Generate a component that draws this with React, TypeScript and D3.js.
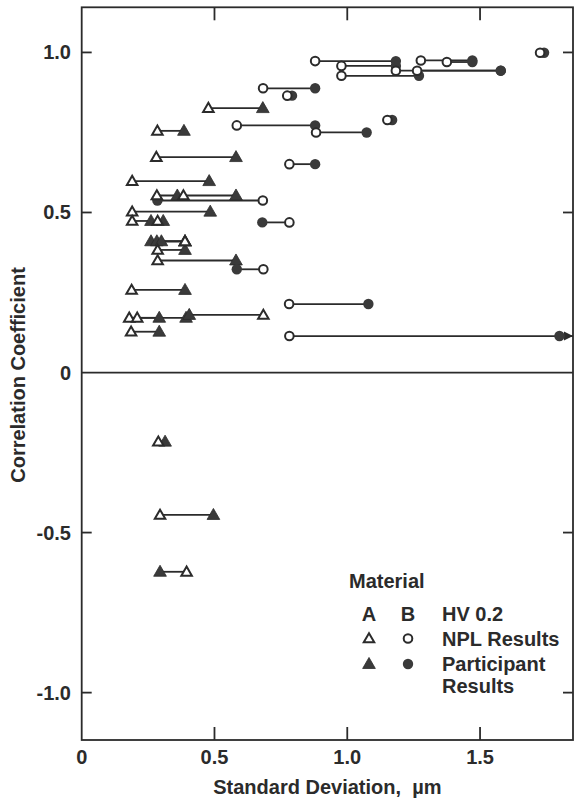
import * as d3 from "d3";

// Material A (triangles): correlation coefficient, NPL SD, participant SD
const aCoef = [0.826, 0.755, 0.673, 0.598, 0.553, 0.553, 0.5025, 0.4735, 0.4735, 0.41, 0.41, 0.41, 0.383, 0.35, 0.258, 0.171, 0.171, 0.18, 0.1275, -0.216, -0.445, -0.6225];
const aNpl = [0.477, 0.285, 0.281, 0.19, 0.283, 0.383, 0.19, 0.19, 0.286, 0.389, 0.389, 0.389, 0.286, 0.286, 0.188, 0.179, 0.209, 0.684, 0.186, 0.2885, 0.295, 0.395];
const aPart = [0.682, 0.385, 0.581, 0.48, 0.581, 0.36, 0.484, 0.261, 0.307, 0.261, 0.283, 0.3, 0.389, 0.581, 0.389, 0.292, 0.393, 0.405, 0.292, 0.314, 0.496, 0.295];

// Material B (circles)
const bCoef = [0.999, 0.975, 0.97, 0.973, 0.958, 0.943, 0.943, 0.927, 0.888, 0.865, 0.789, 0.772, 0.75, 0.651, 0.5375, 0.469, 0.3225, 0.214, 0.114];
const bNpl = [1.726, 1.277, 1.375, 0.879, 0.978, 1.183, 1.263, 0.978, 0.683, 0.774, 1.151, 0.584, 0.8825, 0.782, 0.682, 0.782, 0.684, 0.781, 0.782];
const bPart = [1.741, 1.471, 1.471, 1.183, 1.183, 1.578, 1.578, 1.27, 0.879, 0.792, 1.169, 0.879, 1.073, 0.879, 0.285, 0.68, 0.584, 1.0795, 1.799];

const xTicks = [0.5, 1.0, 1.5];
const xTickLabels = ["0", "0.5", "1.0", "1.5"];
const yTicks = [1.0, 0.5, -0.5, -1.0];
const yTickLabels = ["1.0", "0.5", "0", "-0.5", "-1.0"];

const W = 574;
const H = 804;
const left = 81.7;
const right = 573;
const top = 7.3;
const bottom = 740;
const ink = "#2b2b2b";
const font = "'Liberation Sans', Arial, Helvetica, sans-serif";

export default function App() {
  const x = d3.scaleLinear().domain([0, 1.85]).range([left, right]);
  const y = d3.scaleLinear().domain([-1.148, 1.141]).range([bottom, top]);

  const triOpen = d3.symbol(d3.symbolTriangle, 48)()!;
  const triFill = d3.symbol(d3.symbolTriangle, 70)()!;

  const rowsA = aCoef.map((c, i) => ({ c, npl: aNpl[i], part: aPart[i] }));
  const rowsB = bCoef.map((c, i) => ({ c, npl: bNpl[i], part: bPart[i] }));
  const xMax = x.domain()[1];

  const triangle = (cx: number, cy: number, open: boolean, key: string) => (
    <path
      key={key}
      d={open ? triOpen : triFill}
      transform={`translate(${cx},${cy + 0.8})`}
      fill={open ? "#fff" : "#3a3a3a"}
      stroke={ink}
      strokeWidth={open ? 2 : 0.8}
      strokeLinejoin="miter"
    />
  );
  const circle = (cx: number, cy: number, open: boolean, key: string) => (
    <circle
      key={key}
      cx={cx}
      cy={cy}
      r={open ? 4.3 : 5.2}
      fill={open ? "#fff" : "#3a3a3a"}
      stroke={open ? ink : "none"}
      strokeWidth={2}
    />
  );

  return (
    <svg
      width={W}
      height={H}
      style={{ position: "absolute", left: 0, top: 0, background: "#fff" }}
      fontFamily={font}
      fontWeight="bold"
    >
      {/* frame */}
      <rect x={left} y={top} width={right - left} height={bottom - top} fill="none" stroke={ink} strokeWidth={1.8} />
      <line x1={left} x2={right} y1={y(0)} y2={y(0)} stroke={ink} strokeWidth={1.8} />

      {/* ticks */}
      {xTicks.map((t) => (
        <g key={"xt" + t} stroke={ink} strokeWidth={1.8}>
          <line x1={x(t)} x2={x(t)} y1={bottom} y2={bottom - 13} />
          <line x1={x(t)} x2={x(t)} y1={top} y2={top + 13} />
        </g>
      ))}
      {yTicks.map((t) => (
        <g key={"yt" + t} stroke={ink} strokeWidth={1.8}>
          <line x1={left} x2={left + 10} y1={y(t)} y2={y(t)} />
          <line x1={right} x2={right - 10} y1={y(t)} y2={y(t)} />
        </g>
      ))}

      {/* tick labels */}
      {[0, ...xTicks].map((t, i) => (
        <text key={"xl" + t} x={x(t)} y={764} textAnchor="middle" fontSize={20} fill={ink}>
          {xTickLabels[i]}
        </text>
      ))}
      {[1.0, 0.5, 0, -0.5, -1.0].map((t, i) => (
        <text key={"yl" + t} x={71} y={y(t) + 7} textAnchor="end" fontSize={20} fill={ink}>
          {yTickLabels[i]}
        </text>
      ))}

      {/* axis titles */}
      <text x={(left + right) / 2} y={794} textAnchor="middle" fontSize={20} fill={ink}>
        Standard Deviation,{"\u00a0\u00a0"}µm
      </text>
      <text
        transform={`translate(25,${375}) rotate(-90)`}
        textAnchor="middle"
        fontSize={20}
        fill={ink}
      >
        Correlation Coefficient
      </text>

      {/* connecting lines */}
      {[...rowsA, ...rowsB].map((r, i) => (
        <line
          key={"ln" + i}
          x1={x(r.npl)}
          x2={x(Math.min(r.part > 1.78 ? xMax : r.part, xMax))}
          y1={y(r.c)}
          y2={y(r.c)}
          stroke={ink}
          strokeWidth={1.8}
        />
      ))}
      {/* off-scale arrow */}
      {rowsB
        .filter((r) => r.part > 1.78)
        .map((r, i) => (
          <path
            key={"ar" + i}
            d={`M${x(xMax)},${y(r.c)} l-9,-4.5 l0,9 z`}
            fill={ink}
          />
        ))}

      {/* participant (filled) */}
      {rowsA.map((r, i) => triangle(x(r.part), y(r.c), false, "af" + i))}
      {rowsB.map((r, i) => circle(x(r.part), y(r.c), false, "bf" + i))}
      {/* NPL (open) */}
      {rowsA.map((r, i) => triangle(x(r.npl), y(r.c), true, "ao" + i))}
      {rowsB.map((r, i) => circle(x(r.npl), y(r.c), true, "bo" + i))}

      {/* legend */}
      <g fill={ink} fontSize={20}>
        <text x={349} y={588}>Material</text>
        <text x={369} y={620.5} textAnchor="middle">A</text>
        <text x={408} y={620.5} textAnchor="middle">B</text>
        <text x={442} y={620.5}>HV 0.2</text>
        <text x={442} y={645.5}>NPL Results</text>
        <text x={442} y={670.5}>Participant</text>
        <text x={442} y={692.7}>Results</text>
      </g>
      {triangle(369, 638.5, true, "lg1")}
      {circle(408, 638.5, true, "lg2")}
      {triangle(369, 664, false, "lg3")}
      {circle(408, 664, false, "lg4")}
    </svg>
  );
}
